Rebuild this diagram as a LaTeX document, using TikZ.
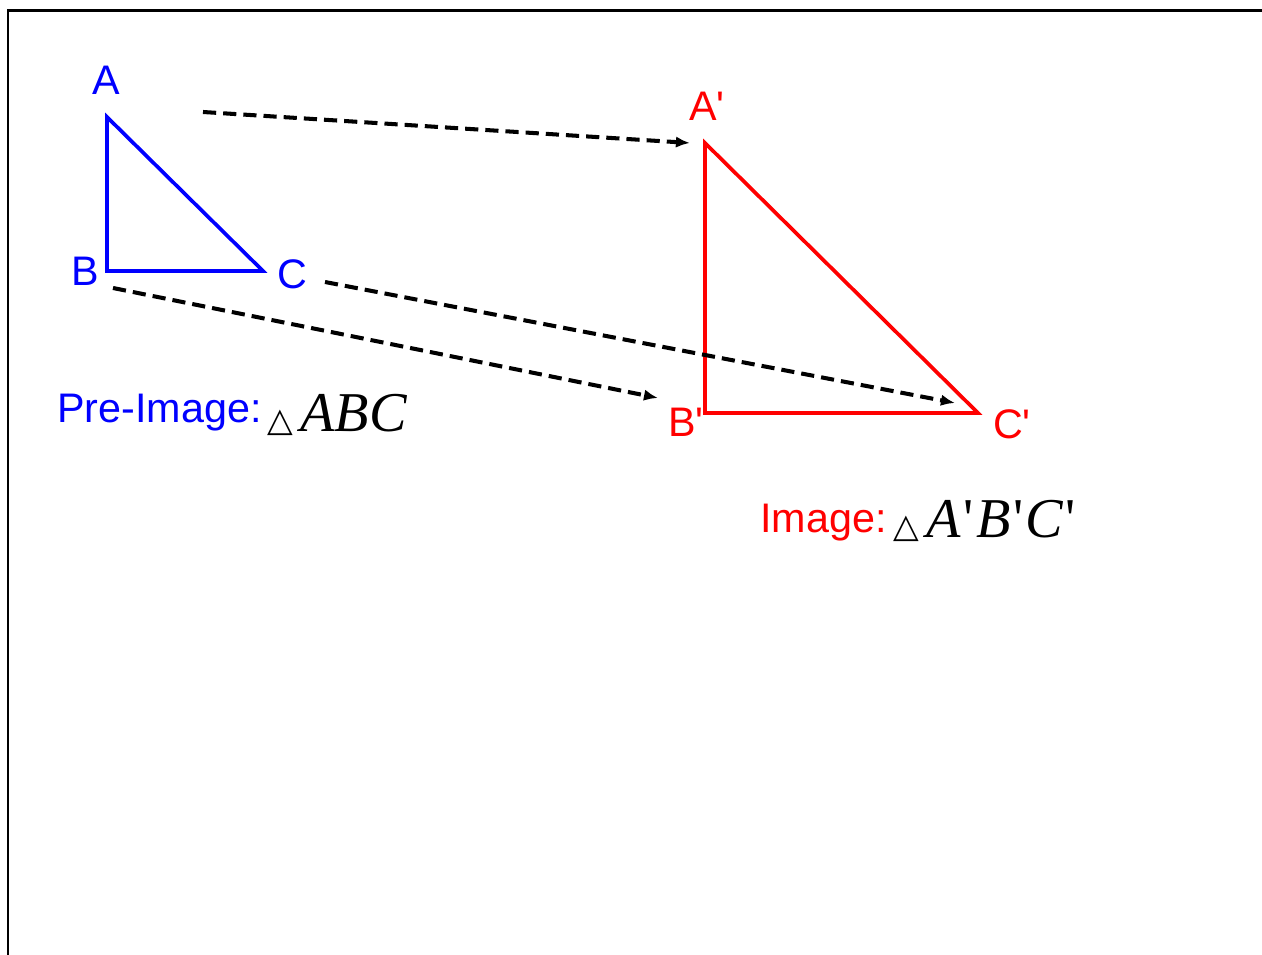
\documentclass[tikz,border=0pt]{standalone}
\usepackage{fontspec}
\setmainfont{Liberation Sans}
\newfontfamily\timesfont{Liberation Serif}
\newfontfamily\symfont{DejaVu Sans}
\newcommand{\pq}{\textquotesingle}
\newcommand{\rpq}{{\upshape\kern1.5pt\textquotesingle\kern1.5pt}}
\usetikzlibrary{arrows.meta}

\begin{document}
\begin{tikzpicture}[x=0.02cm,y=-0.02cm,
  lab/.style={inner sep=0pt,font=\fontsize{23.5}{28}\selectfont},
  side/.style={line width=2.1pt,line join=miter},
  map/.style={line width=2.3pt,dash pattern=on 7.5pt off 4pt,-{Latex[length=8pt,width=6.5pt]}},
  tri/.style={inner sep=0pt,anchor=base west,font=\fontsize{19}{20}\selectfont\symfont},
  formula/.style={inner sep=0pt,anchor=base west,font=\fontsize{32}{34}\selectfont\timesfont\itshape}]
  \useasboundingbox (0,0) rectangle (1262,955);
  % --- ramecek ---
  \draw[line width=1.7pt] (8,955) -- (8,11) -- (1262,11);
  % --- vzor: trojuhelnik ABC ---
  \begin{scope}[blue]
    \coordinate (A) at (107,117);
    \coordinate (B) at (107,271);
    \coordinate (C) at (263,271);
    \draw[side] (A) -- (B) -- (C) -- cycle;
    \node[lab] (lA) at (106,80) {A};
    \node[lab] (lB) at (85,271) {B};
    \node[lab] (lC) at (292,274) {C};
    \node[lab,anchor=base west] (pre) at (57,423) {Pre-Image:};
  \end{scope}
  \node[tri,black] (preT) at (267,432) {△};
  \node[formula] (preF) at (300,432) {ABC};
  % --- obraz: trojuhelnik A'B'C' ---
  \begin{scope}[red]
    \coordinate (A1) at (705,143);
    \coordinate (B1) at (705,413);
    \coordinate (C1) at (978,413);
    \draw[side] (A1) -- (B1) -- (C1) -- cycle;
    \node[lab] (lA1) at (707,106) {A\pq};
    \node[lab] (lB1) at (686,422) {B\pq};
    \node[lab] (lC1) at (1012,424) {C\pq};
    \node[lab,anchor=base west] (img) at (760,533) {Image:};
  \end{scope}
  \node[tri,black] (imgT) at (893,538) {△};
  \node[formula] (imgF) at (926,538) {A\rpq B\rpq C\rpq};
  % --- sipky zobrazeni ---
  \coordinate (sA) at (203,112);
  \coordinate (tA) at (690,143);
  \coordinate (sB) at (113,288);
  \coordinate (tB) at (658,398);
  \coordinate (sC) at (325,282);
  \coordinate (tC) at (955,403);
  \draw[map] (sA) -- (tA);
  \draw[map] (sB) -- (tB);
  \draw[map] (sC) -- (tC);
\end{tikzpicture}
\end{document}
